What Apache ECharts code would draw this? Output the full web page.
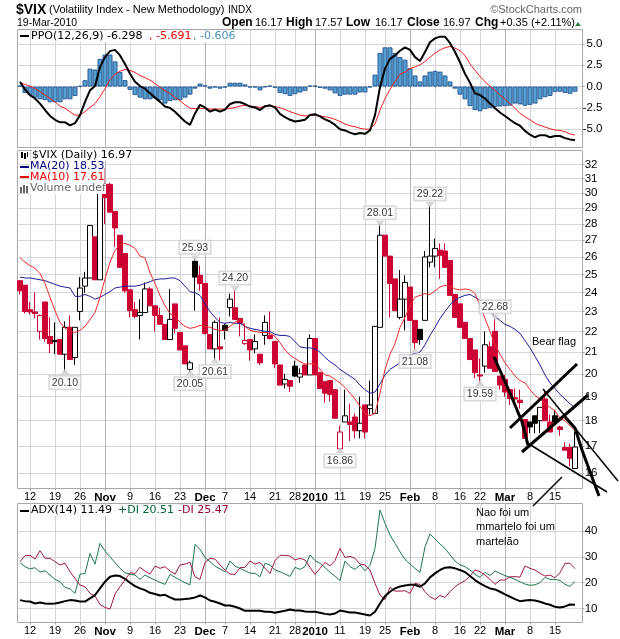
<!DOCTYPE html>
<html>
<head>
<meta charset="utf-8">
<title>$VIX</title>
<style>html,body{margin:0;padding:0;background:#fff}#chart{width:620px;height:639px}</style>
<script src="https://cdn.jsdelivr.net/npm/echarts@6/dist/echarts.min.js"></script>
</head>
<body>
<div id="chart"></div>
<script>
// trading days, 8 Oct 2009 to 19 Mar 2010
var categories = ['Oct 8','Oct 9',
  'Oct 12','Oct 13','Oct 14','Oct 15','Oct 16','Oct 19','Oct 20','Oct 21','Oct 22','Oct 23','Oct 26','Oct 27','Oct 28','Oct 29','Oct 30',
  'Nov 2','Nov 3','Nov 4','Nov 5','Nov 6','Nov 9','Nov 10','Nov 11','Nov 12','Nov 13','Nov 16','Nov 17','Nov 18','Nov 19','Nov 20','Nov 23','Nov 24','Nov 25','Nov 27','Nov 30',
  'Dec 1','Dec 2','Dec 3','Dec 4','Dec 7','Dec 8','Dec 9','Dec 10','Dec 11','Dec 14','Dec 15','Dec 16','Dec 17','Dec 18','Dec 21','Dec 22','Dec 23','Dec 24','Dec 28','Dec 29','Dec 30','Dec 31',
  'Jan 4','Jan 5','Jan 6','Jan 7','Jan 8','Jan 11','Jan 12','Jan 13','Jan 14','Jan 15','Jan 19','Jan 20','Jan 21','Jan 22','Jan 25','Jan 26','Jan 27','Jan 28','Jan 29',
  'Feb 1','Feb 2','Feb 3','Feb 4','Feb 5','Feb 8','Feb 9','Feb 10','Feb 11','Feb 12','Feb 16','Feb 17','Feb 18','Feb 19','Feb 22','Feb 23','Feb 24','Feb 25','Feb 26',
  'Mar 1','Mar 2','Mar 3','Mar 4','Mar 5','Mar 8','Mar 9','Mar 10','Mar 11','Mar 12','Mar 15','Mar 16','Mar 17','Mar 18','Mar 19',''];

// axis labels under the panels, by category
var tickLabels = {'Oct 12':'12','Oct 19':'19','Oct 26':'26','Nov 2':'Nov','Nov 9':'9','Nov 16':'16','Nov 23':'23','Dec 1':'Dec','Dec 7':'7','Dec 14':'14','Dec 21':'21','Dec 28':'28',
  'Jan 4':'2010','Jan 11':'11','Jan 19':'19','Jan 25':'25','Feb 1':'Feb','Feb 8':'8','Feb 16':'16','Feb 22':'22','Mar 1':'Mar','Mar 8':'8','Mar 15':'15'};
var monthStarts = ['Nov 2','Dec 1','Jan 4','Feb 1','Mar 1'];

var open = [24.65,24.4,23.1,22.98,22.0,23.5,21.75,21.55,21.6,20.9,
  22.2,20.75,23.0,24.35,24.8,27.2,24.7,30.6,30.6,28.8,
  27.3,26.2,24.15,23.1,22.8,22.95,24.2,23.3,22.8,22.35,
  21.6,23.4,21.95,21.3,20.2,25.75,24.95,24.5,21.85,21.15,
  21.25,22.3,23.2,23.2,22.65,21.4,21.6,21.15,20.9,21.8,
  21.8,21.5,20.4,19.55,19.7,20.35,19.85,20.4,19.95,21.65,
  20.05,19.65,19.7,19.3,16.9,17.95,17.95,18.15,17.6,18.65,
  18.5,18.3,22.2,27.3,26.05,24.75,22.7,23.65,24.3,22.55,
  22.1,22.55,25.7,26.05,26.4,26.35,25.8,23.9,23.4,22.45,
  21.65,21.1,19.95,20.35,21.25,22.0,19.9,19.75,19.3,18.95,
  18.85,18.05,17.95,18.2,18.0,18.9,17.95,18.2,17.75,16.95,
  16.95,16.17];
var close = [24.1,23.0,22.98,22.9,22.8,21.65,21.4,21.5,20.9,22.2,
  20.65,22.2,24.25,24.8,27.9,24.7,30.6,29.7,28.75,27.75,
  25.4,24.1,23.05,22.75,22.95,24.2,23.3,22.8,22.35,21.6,
  22.6,22.15,21.1,20.45,20.5,24.85,24.5,21.9,21.15,22.45,
  21.15,22.05,23.65,22.6,22.4,21.55,21.1,21.5,20.5,22.45,
  21.65,20.45,19.5,19.75,19.45,19.9,20.0,19.95,21.65,19.95,
  19.35,19.15,19.1,18.1,17.55,18.2,17.85,17.6,17.9,17.55,
  18.65,22.25,27.3,26.05,24.5,23.05,23.65,24.55,22.55,21.45,
  21.6,26.0,26.05,26.5,26.1,25.4,23.85,22.7,22.2,21.65,
  20.65,20.05,19.9,21.35,20.25,20.1,19.5,19.2,18.92,18.9,
  18.75,17.3,17.75,17.9,18.55,18.0,17.55,17.95,17.65,16.85,
  16.55,16.97];
var low = [23.9,22.9,22.85,22.65,21.6,21.5,20.95,20.9,20.9,20.1,
  20.65,20.4,22.55,24.0,24.8,24.7,24.7,28.0,28.75,26.6,
  25.4,24.0,22.7,22.65,21.6,22.95,23.3,22.0,22.35,21.6,
  21.6,21.9,21.1,20.45,20.05,23.05,24.1,21.85,21.15,20.61,
  20.6,21.6,22.75,22.6,21.75,21.35,20.6,20.95,20.4,21.35,
  21.6,20.25,19.5,19.35,19.2,19.85,19.6,19.95,19.95,19.95,
  19.35,18.75,18.8,18.1,16.86,17.95,17.2,17.3,17.3,17.3,
  18.25,18.3,22.2,26.05,22.7,23.05,22.6,22.05,22.55,21.08,
  21.35,22.55,25.4,25.4,24.75,25.4,23.85,22.7,22.2,21.65,
  20.65,19.8,19.59,20.05,20.25,20.1,19.3,19.0,18.65,18.6,
  18.5,17.3,17.5,17.5,17.5,18.0,17.55,17.95,17.4,16.85,
  16.25,16.17];
var high = [24.65,24.4,23.5,24.0,22.85,23.5,22.7,22.45,21.6,22.5,
  22.8,22.2,24.85,25.15,27.9,27.2,31.5,31.75,30.7,28.8,
  27.3,26.2,24.15,23.5,23.65,24.55,24.3,23.3,23.2,22.35,
  24.2,23.4,21.95,21.3,20.6,25.93,25.5,24.5,21.85,22.55,
  22.7,22.4,23.95,24.2,22.65,22.4,21.6,21.85,20.9,22.8,
  23.0,21.5,20.4,20.0,19.7,20.6,20.25,20.4,21.85,21.65,
  20.1,19.65,19.7,19.3,17.8,19.3,18.7,18.3,19.0,18.65,
  19.7,22.25,28.01,27.3,26.05,24.75,25.25,24.95,24.3,22.55,
  22.1,26.35,29.22,27.1,26.8,26.8,25.8,23.9,23.4,22.45,
  21.65,21.1,20.7,22.0,21.5,22.68,19.9,19.95,19.3,19.35,
  19.3,18.05,17.95,18.2,18.55,19.3,18.25,18.45,17.8,17.15,
  17.1,17.57];

var ma20 = [24.85,24.8,24.8,24.75,24.7,24.65,24.55,24.45,24.35,24.3,
  24.25,23.8,23.8,23.9,23.8,23.65,23.75,23.9,24.05,24.25,
  24.3,24.35,24.35,24.35,24.4,24.5,24.6,24.7,24.75,24.75,
  24.8,24.8,24.65,24.35,24.05,24.0,23.85,23.4,23.0,22.7,
  22.45,22.4,22.45,22.4,22.4,22.25,22.15,22.1,22.05,22.0,
  22.0,21.85,21.8,21.8,21.75,21.5,21.25,21.2,21.2,21.15,
  21.0,20.75,20.55,20.4,20.2,20.05,19.9,19.75,19.5,19.3,
  19.15,19.2,19.55,19.95,20.2,20.35,20.5,20.7,20.85,20.95,
  21.0,21.35,21.8,22.2,22.65,23.0,23.35,23.6,23.75,23.85,
  23.9,23.75,23.6,23.4,23.05,22.75,22.55,22.35,22.25,22.1,
  21.9,21.55,21.2,20.8,20.4,19.95,19.6,19.35,19.1,18.9,
  18.7,18.53];
var ma10 = [25.95,25.7,25.5,25.35,25.05,24.5,23.75,23.05,22.45,22.15,
  22.0,21.95,22.05,22.25,22.6,22.95,23.75,24.75,25.7,26.4,
  26.7,26.8,26.7,26.5,26.05,25.95,25.1,24.5,23.85,23.3,
  22.9,22.75,22.45,22.25,22.15,22.2,22.3,22.25,22.2,22.1,
  22.05,22.05,22.25,22.45,22.6,22.25,22.05,22.0,21.95,21.95,
  21.9,21.75,21.45,21.1,20.85,20.7,20.55,20.45,20.45,20.45,
  20.2,19.95,19.9,19.75,19.6,19.4,19.15,18.9,18.6,18.3,
  18.2,18.3,19.15,20.2,20.9,21.4,22.2,22.7,23.3,23.75,
  23.85,23.95,23.9,24.1,24.3,24.4,24.35,24.2,24.15,24.2,
  24.15,23.95,23.3,22.65,22.0,21.35,20.9,20.5,20.2,19.9,
  19.7,19.6,19.3,19.05,18.9,18.7,18.55,18.4,18.1,18.0,
  17.8,17.61];

var ppo = [0.55,-0.35,-1.0,-1.4,-2.0,-2.75,-3.45,-3.9,-4.2,-4.2,
  -4.55,-4.3,-3.35,-1.8,-0.45,0.05,2.3,3.45,4.15,4.3,
  3.65,2.65,1.5,0.55,0.05,-0.25,-0.8,-1.3,-1.8,-2.35,
  -2.5,-2.95,-3.55,-4.1,-4.5,-3.15,-2.15,-2.45,-2.95,-2.7,
  -2.95,-2.7,-2.05,-1.85,-1.85,-2.05,-2.35,-2.45,-2.75,-2.3,
  -2.2,-2.45,-3.2,-3.6,-3.9,-4.1,-4.0,-3.9,-3.35,-3.25,
  -3.5,-3.85,-4.1,-4.5,-5.0,-5.15,-5.4,-5.6,-5.45,-5.55,
  -5.15,-3.35,-0.05,2.1,3.25,3.65,4.2,4.6,4.3,3.45,
  3.0,4.05,5.2,5.65,5.85,5.85,5.1,4.05,2.85,1.5,
  0.45,-0.8,-1.0,-1.4,-2.0,-2.55,-3.05,-3.45,-3.9,-4.3,
  -4.6,-5.2,-5.65,-5.95,-5.7,-5.7,-5.95,-5.8,-5.8,-6.05,
  -6.2,-6.298];
var ppoSignal = [0.45,0.25,0.05,-0.25,-0.6,-1.0,-1.4,-1.8,-2.3,-2.55,
  -2.95,-3.35,-3.35,-2.95,-2.45,-2.0,-1.2,-0.25,0.8,1.45,
  1.8,2.0,1.9,1.65,1.3,1.05,0.75,0.35,-0.1,-0.5,
  -0.8,-1.3,-1.65,-2.15,-2.55,-2.6,-2.55,-2.6,-2.65,-2.65,
  -2.65,-2.65,-2.55,-2.45,-2.3,-2.2,-2.3,-2.35,-2.45,-2.35,
  -2.3,-2.35,-2.5,-2.7,-2.95,-3.15,-3.35,-3.45,-3.4,-3.35,
  -3.45,-3.55,-3.65,-3.85,-4.1,-4.4,-4.6,-4.7,-4.9,-5.0,
  -5.0,-4.4,-2.75,-1.4,-0.35,0.6,1.45,1.7,2.1,2.3,
  2.55,2.95,3.45,3.9,4.3,4.55,4.7,4.5,4.2,3.65,
  2.65,1.9,1.2,0.55,0.05,-0.45,-1.0,-1.5,-2.0,-2.55,
  -3.15,-3.55,-3.9,-4.3,-4.55,-4.75,-4.95,-5.1,-5.15,-5.3,
  -5.55,-5.691];
var ppoHist = [0.1,-0.75,-1.0,-1.3,-1.5,-1.6,-1.85,-1.85,-1.85,-1.5,
  -1.5,-1.1,0.05,0.75,2.1,2.0,3.25,3.75,3.75,2.95,
  1.7,0.75,-0.4,-1.0,-1.3,-1.5,-1.5,-1.4,-1.6,-2.0,
  -1.7,-1.6,-1.6,-1.3,-0.95,-0.25,0.35,0.15,-0.25,-0.1,
  -0.25,-0.1,0.45,0.45,0.45,0.25,-0.1,-0.1,-0.45,-0.05,
  0.1,-0.15,-0.75,-0.9,-1.1,-0.9,-0.7,-0.5,0.1,0.1,
  -0.15,-0.25,-0.45,-0.8,-1.1,-0.95,-0.95,-0.95,-0.7,-0.7,
  -0.1,1.4,3.95,4.6,4.6,3.95,3.45,3.15,2.15,1.3,
  0.6,1.3,1.75,1.85,1.75,1.3,0.6,-0.25,-0.95,-1.5,
  -2.3,-2.75,-2.9,-2.65,-2.5,-2.4,-2.35,-2.3,-2.25,-2.0,
  -2.1,-2.25,-2.15,-2.0,-1.5,-1.25,-1.1,-0.65,-0.6,-0.75,
  -0.85,-0.606];

var adx = [13.25,12.85,12.7,11.95,12.35,11.95,11.8,11.95,12.35,12.85,
  13.25,13.1,12.7,12.7,13.9,15.2,17.8,20.4,22.35,22.85,
  22.6,21.55,20.0,18.7,17.8,17.15,16.1,15.6,15.05,15.3,
  14.3,13.5,13.5,13.65,13.9,14.3,15.05,14.3,13.1,12.6,
  11.95,11.15,11.15,10.65,10.0,9.1,9.1,9.1,9.1,8.7,
  8.7,8.3,8.7,9.1,9.6,9.2,9.2,8.85,8.7,8.7,
  8.3,7.9,7.65,8.05,9.2,8.85,8.45,8.45,8.05,7.65,
  7.25,8.7,11.95,14.8,16.5,17.8,18.55,18.95,19.2,19.2,
  18.45,19.75,22.1,23.65,24.95,25.85,26.0,25.6,24.95,24.15,
  22.6,21.05,19.75,18.7,17.8,17.4,16.5,15.45,14.55,13.65,
  12.85,13.1,13.25,13.1,12.6,11.95,11.45,10.65,10.4,10.8,
  11.55,11.49];
var plusDI = [27.8,26.25,25.35,25.85,24.15,24.65,23.0,21.3,20.4,18.2,
  17.65,15.85,23.35,23.6,31.4,27.25,35.3,32.3,30.1,27.8,
  25.6,23.9,23.25,23.0,21.3,23.0,21.95,21.05,20.15,19.35,
  23.25,22.1,21.05,20.0,19.2,34.9,33.0,29.75,28.2,26.5,
  25.35,24.3,28.45,26.5,25.6,24.65,23.75,23.65,22.35,27.55,
  26.9,24.95,24.3,23.4,22.45,26.0,25.2,26.25,30.8,28.6,
  27.55,25.85,24.05,22.6,20.9,28.45,26.25,25.2,26.9,24.65,
  26.75,33.35,48.3,43.1,38.55,35.3,32.05,29.1,27.25,25.6,
  24.05,34.0,38.95,37.0,35.05,33.35,30.8,28.45,26.9,26.25,
  24.95,23.25,22.1,24.05,22.85,24.55,23.65,22.75,22.1,21.3,
  20.4,19.5,19.0,19.2,20.0,22.1,21.3,21.3,20.9,19.35,
  18.6,20.51];
var minusDI = [28.2,30.5,30.65,29.2,32.45,29.5,29.5,28.2,26.9,27.55,
  24.3,21.7,19.1,18.45,15.85,14.8,11.55,10.4,9.75,15.6,
  18.45,21.05,23.9,23.6,26.0,24.55,23.35,26.5,25.6,26.25,
  24.55,23.35,26.9,27.25,27.9,22.35,21.3,27.9,29.5,29.2,
  26.9,24.95,23.35,23.25,25.85,26.0,28.45,27.25,27.9,25.6,
  23.65,28.6,30.65,30.65,30.4,28.85,29.5,28.85,26.0,23.25,
  25.6,27.9,26.6,28.6,33.35,29.85,30.25,29.5,27.25,26.9,
  24.95,19.75,15.2,13.5,18.2,16.75,16.75,16.9,15.85,19.75,
  19.35,16.5,14.55,13.5,15.05,14.3,16.5,18.45,19.75,20.8,
  22.6,24.95,24.3,23.0,21.3,19.35,21.05,21.05,22.35,22.35,
  22.2,26.5,25.6,24.95,23.65,22.6,23.0,21.95,23.9,27.55,
  27.55,25.47];

// labelled highs and lows on the price panel
var highMarks = [[35,25.93],[43,24.20],[72,28.01],[82,29.22],[95,22.68]];
var lowMarks = [[9,20.10],[34,20.05],[39,20.61],[64,16.86],[79,21.08],[92,19.59]];

var priceTicks = [16,17,18,19,20,21,22,23,24,25,26,27,28,29,30,31,32];
var ppoTicks = [-5,-2.5,0,2.5,5];
var adxTicks = [10,20,30,40];

// hand drawn lines on the original picture, in page pixels
var thickStrokes = [
  [[494,357],[510,393],[522,422],[528,445]],
  [[510,428],[577,364]],
  [[522,452],[588,395]],
  [[565,417],[575,428],[582,450],[599,496]]
];
var thinStrokes = [
  [[529,444],[607,492]],
  [[543,389],[618,481]],
  [[533,506],[562,477]]
];

var LEFT = 17.5, WIDTH = 565;
var GRID = '#d6d6d6';
var SANS = '"Liberation Sans", Arial, sans-serif';
var VERD = '"DejaVu Sans", Verdana, sans-serif';

var candleData = open.map(function (o, i) {
  var c = close[i];
  var prev = i > 0 ? close[i - 1] : high[i];
  var col = c >= prev ? '#000000' : '#cc0033';
  var fill = c > o ? '#ffffff' : col;
  return {
    value: [o, c, low[i], high[i]],
    itemStyle: { color: fill, color0: fill, borderColor: col, borderColor0: col }
  };
});

function isTick(i, name) { return tickLabels[name] !== undefined; }
function isMonth(i, name) { return monthStarts.indexOf(name) >= 0; }

function xAxisFor(gridIndex, withLabels) {
  return {
    type: 'category', gridIndex: gridIndex, data: categories, boundaryGap: true,
    axisLine: { show: false },
    axisTick: { show: true, alignWithLabel: true, interval: isTick, length: 2, lineStyle: { color: '#999' } },
    splitLine: { show: true, alignWithLabel: true, interval: isTick, lineStyle: { color: GRID, width: 1 } },
    axisLabel: {
      show: withLabels, interval: isTick, margin: 3, fontFamily: SANS, fontSize: 11, color: '#000',
      formatter: function (v) {
        var t = tickLabels[v];
        return monthStarts.indexOf(v) >= 0 ? '{m|' + t + '}' : t;
      },
      rich: { m: { fontFamily: SANS, fontSize: 11.5, fontWeight: 'bold', color: '#000' } }
    }
  };
}
// second axis on each panel only for the darker month lines
function monthAxisFor(gridIndex) {
  return {
    type: 'category', gridIndex: gridIndex, data: categories, boundaryGap: true,
    axisLine: { show: false }, axisTick: { show: false }, axisLabel: { show: false },
    splitLine: { show: true, alignWithLabel: true, interval: isMonth, lineStyle: { color: '#b4b4b4', width: 1 } }
  };
}
function yAxisFor(gridIndex, type, min, max, ticks, fmt, labelOpts) {
  return {
    type: type, gridIndex: gridIndex, position: 'right', min: min, max: max,
    axisLine: { show: false },
    axisTick: { show: true, customValues: ticks, length: 2, lineStyle: { color: '#999' } },
    splitLine: { show: true, lineStyle: { color: GRID, width: 1 } },
    minorSplitLine: { show: false },
    axisLabel: Object.assign({ customValues: ticks, fontFamily: SANS, fontSize: 11.5, color: '#000', formatter: fmt }, labelOpts)
  };
}
function lineSeries(name, data, color, width, xi, yi, z) {
  return {
    name: name, type: 'line', data: data, xAxisIndex: xi, yAxisIndex: yi, z: z || 5,
    showSymbol: false, symbol: 'none', animation: false, silent: true,
    lineStyle: { color: color, width: width }
  };
}
function markSeries(data, position, rotate) {
  return {
    type: 'scatter', data: data, xAxisIndex: 1, yAxisIndex: 1, z: 8, silent: true,
    symbol: 'triangle', symbolSize: [9, 6], symbolRotate: rotate, itemStyle: { color: '#cfcfcf' },
    label: {
      show: true, position: position, distance: 2, color: '#000', fontFamily: SANS, fontSize: 10.5,
      backgroundColor: '#fff', borderColor: '#cfcfcf', borderWidth: 1.5, padding: [1, 2, 0, 2],
      formatter: function (p) { return p.value[1].toFixed(2); }
    }
  };
}

// page furniture
var g = [];
function txt(x, y, text, fill, font, extra) {
  g.push({ type: 'text', z: 20, silent: true, style: Object.assign({
    x: x, y: y, text: text, fill: fill || '#000', font: font || '11px ' + SANS, verticalAlign: 'middle'
  }, extra || {}) });
}
function bar(x, y, w, h, fill) {
  g.push({ type: 'rect', z: 21, silent: true, shape: { x: x, y: y, width: w, height: h }, style: { fill: fill } });
}
function stroke(points, w) {
  g.push({ type: 'polyline', z: 15, silent: true, shape: { points: points }, style: { stroke: '#000', lineWidth: w, fill: null } });
}

txt(16, 10, '$VIX', '#000', 'bold 14px ' + SANS);
txt(49, 10, '(Volatility Index - New Methodology)', '#000', '11px ' + SANS);
txt(228, 10, 'INDX', '#000', '10px ' + SANS);
txt(17, 23, '19-Mar-2010', '#000', '10.5px ' + SANS);
var B = 'bold 12px ' + SANS, N = '11px ' + SANS;
txt(222, 23, 'Open', '#000', B); txt(255, 23, '16.17', '#000', N);
txt(286, 23, 'High', '#000', B); txt(315, 23, '17.57', '#000', N);
txt(346, 23, 'Low', '#000', B); txt(375, 23, '16.17', '#000', N);
txt(407, 23, 'Close', '#000', B); txt(443, 23, '16.97', '#000', N);
txt(475, 23, 'Chg', '#000', B); txt(500, 23, '+0.35 (+2.11%)', '#000', N);
g.push({ type: 'polygon', z: 20, silent: true, shape: { points: [[575, 26], [581, 26], [578, 22]] }, style: { fill: '#2e7d4f' } });
txt(582, 10, '\u00a9StockCharts.com', '#666', '11px ' + SANS, { align: 'right' });

var L = '11px ' + VERD;
bar(20, 35, 9, 2, '#000');
txt(31, 36.5, 'PPO(12,26,9) -6.298', '#000', L, { backgroundColor: '#fff' });
txt(149, 36.5, ', -5.691', '#ee0000', L, { backgroundColor: '#fff' });
txt(193, 36.5, ', -0.606', '#4a90c0', L, { backgroundColor: '#fff' });

bar(21, 152, 2, 6, '#000'); bar(24, 153, 2, 6, '#000'); bar(27, 152, 1, 5, '#000');
txt(32, 155.5, '$VIX (Daily) 16.97', '#000', L, { backgroundColor: '#fff' });
bar(20, 166, 9, 2, '#000080');
txt(30, 166.5, 'MA(20) 18.53', '#000080', L, { backgroundColor: '#fff' });
bar(20, 176, 9, 2, '#ee0000');
txt(30, 177.5, 'MA(10) 17.61', '#ee0000', L, { backgroundColor: '#fff' });
bar(20, 187, 2, 6, '#666'); bar(23, 185, 2, 8, '#666'); bar(26, 186, 2, 7, '#666');
txt(30, 188.5, 'Volume undef', '#666', L, { backgroundColor: '#fff' });

bar(20, 510, 9, 2, '#000');
txt(31, 510.5, 'ADX(14) 11.49', '#000', L, { backgroundColor: '#fff' });
txt(118, 510.5, '+DI 20.51', '#006633', L, { backgroundColor: '#fff' });
txt(178, 510.5, '-DI 25.47', '#990033', L, { backgroundColor: '#fff' });

thickStrokes.forEach(function (p) { stroke(p, 3); });
thinStrokes.forEach(function (p) { stroke(p, 1.5); });

txt(532, 342, 'Bear flag', '#000', N);
txt(476, 513, 'Nao foi um', '#000', N);
txt(476, 527, 'mmartelo foi um', '#000', N);
txt(476, 541.5, 'martel\u00e3o', '#000', N);

var frame = { show: true, borderColor: '#a8a8a8', borderWidth: 1, backgroundColor: '#fff', containLabel: false };

var option = {
  animation: false,
  backgroundColor: '#fff',
  grid: [
    Object.assign({ left: LEFT, top: 29.5, width: WIDTH, height: 118 }, frame),
    Object.assign({ left: LEFT, top: 150.5, width: WIDTH, height: 338 }, frame),
    Object.assign({ left: LEFT, top: 503.5, width: WIDTH, height: 119 }, frame)
  ],
  xAxis: [
    xAxisFor(0, false), xAxisFor(1, true), xAxisFor(2, true),
    monthAxisFor(0), monthAxisFor(1), monthAxisFor(2)
  ],
  yAxis: [
    yAxisFor(0, 'value', -7.15, 6.69, ppoTicks, function (v) { return v.toFixed(1); }, { align: 'right', margin: 20 }),
    yAxisFor(1, 'log', 15.46, 33.02, priceTicks, function (v) { return String(Math.round(v)); }, { align: 'right', margin: 15 }),
    yAxisFor(2, 'value', 4.55, 50.8, adxTicks, function (v) { return String(v); }, { align: 'right', margin: 15 })
  ],
  series: [
    { type: 'bar', data: ppoHist, xAxisIndex: 0, yAxisIndex: 0, barWidth: 5, barGap: 0, z: 3, silent: true,
      itemStyle: { color: '#559fcf', borderColor: '#2a5c99', borderWidth: 1 } },
    lineSeries('Signal', ppoSignal, '#ee2222', 1, 0, 0, 5),
    lineSeries('PPO', ppo, '#000', 2, 0, 0, 6),
    { type: 'candlestick', data: candleData, xAxisIndex: 1, yAxisIndex: 1, barWidth: 5, z: 3, silent: true,
      itemStyle: { borderWidth: 1 } },
    lineSeries('MA20', ma20, '#1f1f99', 1, 1, 1, 5),
    lineSeries('MA10', ma10, '#f02c2c', 1, 1, 1, 5),
    markSeries(highMarks, 'top', 180),
    markSeries(lowMarks, 'bottom', 0),
    lineSeries('+DI', plusDI, '#1f7a50', 1, 2, 2, 5),
    lineSeries('-DI', minusDI, '#a01848', 1, 2, 2, 5),
    lineSeries('ADX', adx, '#000', 2, 2, 2, 6)
  ],
  graphic: g
};

var myChart = echarts.init(document.getElementById('chart'), null, { renderer: 'canvas' });
myChart.setOption(option);
</script>
</body>
</html>
